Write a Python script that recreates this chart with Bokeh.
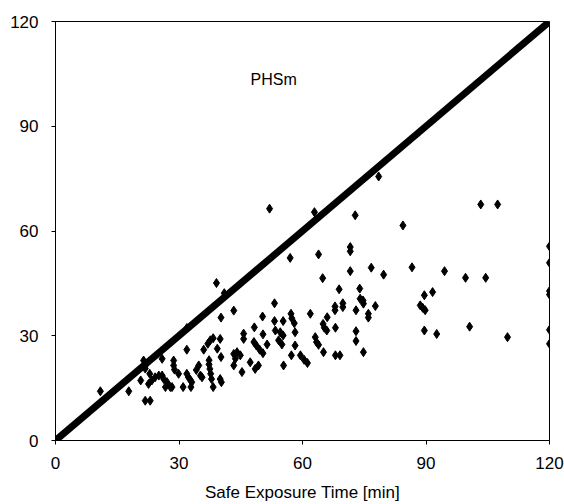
from bokeh.plotting import figure
from bokeh.models import Range1d, FixedTicker, Label
from bokeh.embed import file_html
from bokeh.resources import INLINE

# Scatter data: Safe Exposure Time (x) vs predicted (y)
safe_time = [10.9, 17.8, 20.7, 21.4, 21.8, 22.0, 21.8, 23.0, 22.6, 23.4, 24.2, 25.1, 25.9, 26.3, 27.1, 27.9,
             26.7, 28.3, 25.9, 22.9, 28.7, 28.7, 28.9, 29.9, 31.0, 31.9, 31.9, 31.9, 32.3, 32.7, 33.1, 32.9,
             34.2, 34.8, 35.2, 35.6, 36.0, 37.0, 37.6, 38.3, 37.3, 37.3, 37.5, 37.7, 37.9, 38.3, 39.1, 41.0,
             39.3, 40.0, 40.2, 40.2, 40.0, 40.3, 43.3, 43.3, 44.1, 44.9, 43.7, 43.3, 45.3, 45.7, 45.7, 47.3,
             48.5, 49.3, 48.3, 50.4, 48.2, 48.8, 49.6, 50.4, 51.4, 50.3, 52.0, 53.2, 53.2, 53.4, 54.6, 55.3,
             55.3, 54.2, 55.0, 55.4, 57.0, 57.2, 57.4, 58.0, 58.2, 58.2, 57.3, 59.5, 60.4, 61.2, 61.9, 62.9,
             63.9, 63.1, 63.4, 63.9, 64.9, 65.0, 65.3, 65.9, 65.1, 66.0, 68.0, 67.9, 67.9, 68.0, 69.1, 68.9,
             69.8, 69.8, 71.6, 71.6, 71.6, 72.8, 73.0, 73.0, 73.0, 73.9, 74.0, 74.7, 74.8, 74.8, 76.0, 76.0,
             76.7, 77.7, 78.5, 79.7, 84.4, 86.6, 88.6, 89.2, 89.8, 89.6, 89.6, 91.6, 92.6, 94.5, 99.6, 100.6,
             103.3, 104.5, 107.4, 109.8, 120.0, 120.0, 120.0, 120.0, 120.0, 120.0]
phsm_time = [14.1, 14.1, 17.2, 22.9, 20.6, 21.8, 11.4, 11.4, 16.2, 17.2, 18.1, 18.6, 18.6, 17.6, 16.7, 15.3,
             15.3, 15.3, 23.4, 19.1, 22.9, 21.5, 20.3, 19.1, 15.3, 32.2, 26.0, 19.1, 18.1, 17.4, 16.7, 15.3,
             20.2, 21.5, 18.6, 18.1, 26.0, 27.7, 28.7, 29.3, 23.0, 21.8, 20.5, 19.1, 17.6, 15.3, 45.1, 42.2,
             26.3, 29.1, 35.2, 23.9, 17.6, 16.7, 37.2, 24.8, 25.3, 24.4, 23.4, 21.5, 19.6, 30.6, 29.1, 22.4,
             20.5, 21.5, 32.4, 30.4, 28.2, 27.2, 26.0, 25.0, 27.5, 35.5, 66.4, 39.3, 34.2, 31.5, 31.0, 30.1,
             34.2, 28.7, 27.5, 21.5, 52.3, 36.3, 35.0, 33.6, 31.0, 27.2, 24.4, 24.4, 23.1, 22.2, 36.3, 65.4,
             53.3, 29.6, 28.2, 27.4, 46.5, 33.4, 32.3, 31.5, 25.3, 35.3, 32.3, 38.4, 37.3, 24.4, 24.4, 43.3,
             39.3, 38.2, 55.4, 54.2, 48.5, 64.5, 37.3, 31.3, 28.5, 43.5, 40.6, 40.1, 39.2, 25.3, 36.3, 35.2,
             49.5, 38.5, 75.6, 47.5, 61.6, 49.6, 38.7, 38.0, 37.3, 41.6, 31.5, 42.5, 30.5, 48.5, 46.6, 32.6,
             67.6, 46.6, 67.6, 29.6, 55.6, 50.9, 42.8, 41.8, 31.7, 27.7]

# Identity line
line_x = [0, 120]
line_y = [0, 120]

ticks = [0, 30, 60, 90, 120]
x_title = "Safe Exposure Time [min]"
panel_label = "PHSm"

FONT = "Liberation Sans"

p = figure(frame_width=494, frame_height=419, output_backend="svg", toolbar_location=None,
           x_range=Range1d(0, 120), y_range=Range1d(0, 120),
           min_border_left=55, min_border_right=15, min_border_top=21, min_border_bottom=64)
p.xgrid.visible = False
p.ygrid.visible = False
p.outline_line_color = "black"
p.outline_line_width = 1
p.background_fill_color = "white"
p.border_fill_color = "white"

p.line(line_x, line_y, line_color="black", line_width=7)
p.scatter(safe_time, phsm_time, marker="diamond", size=9, fill_color="black", line_color="black")

for ax in (p.xaxis[0], p.yaxis[0]):
    ax.ticker = FixedTicker(ticks=ticks)
    ax.minor_tick_line_color = None
    ax.major_tick_in = 0
    ax.major_tick_out = 4
    ax.axis_line_color = "black"
    ax.major_tick_line_color = "black"
    ax.major_label_text_font = FONT
    ax.major_label_text_font_size = "17px"
    ax.major_label_text_color = "black"

p.xaxis[0].major_label_standoff = 12
p.yaxis[0].major_label_standoff = 13
p.xaxis[0].axis_label = x_title
p.xaxis[0].axis_label_text_font = FONT
p.xaxis[0].axis_label_text_font_size = "17px"
p.xaxis[0].axis_label_text_font_style = "normal"
p.xaxis[0].axis_label_text_color = "black"
p.xaxis[0].axis_label_standoff = 11

p.add_layout(Label(x=53, y=103.5, text=panel_label, text_font=FONT, text_font_size="16px",
                   text_align="center", text_baseline="middle", text_color="black"))

open("out.html", "w").write(file_html(p, INLINE))
